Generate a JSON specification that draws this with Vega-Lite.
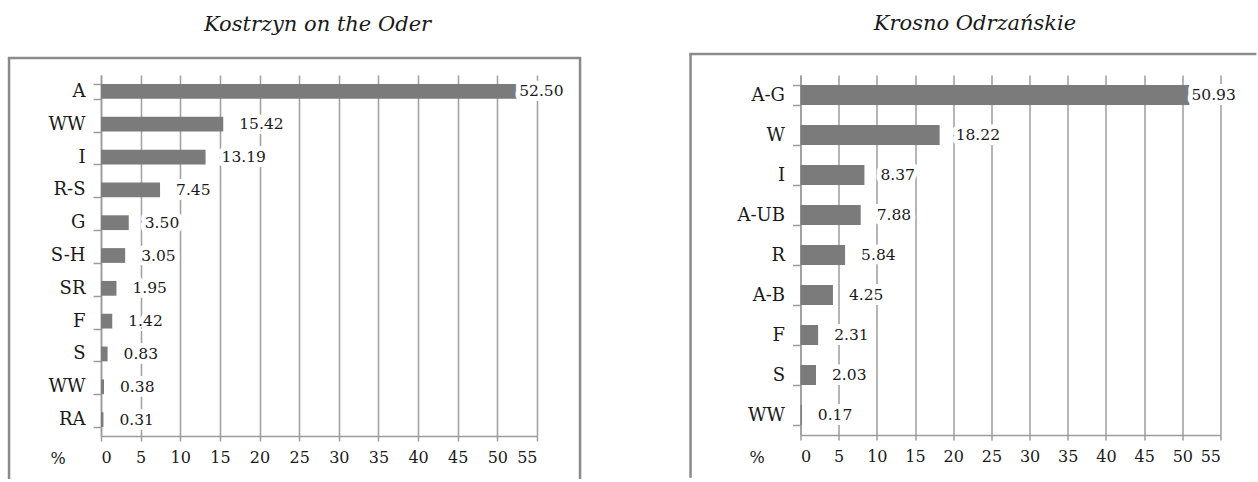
{
  "$schema": "https://vega.github.io/schema/vega-lite/v6.json",
  "background": "white",
  "padding": {"left": 6, "top": 12, "right": 0, "bottom": 0},
  "spacing": 104.5,
  "datasets": {
    "kostrzyn": [
      {"key": "A|1", "share": 52.50},
      {"key": "WW|2", "share": 15.42},
      {"key": "I|3", "share": 13.19},
      {"key": "R-S|4", "share": 7.45},
      {"key": "G|5", "share": 3.50},
      {"key": "S-H|6", "share": 3.05},
      {"key": "SR|7", "share": 1.95},
      {"key": "F|8", "share": 1.42},
      {"key": "S|9", "share": 0.83},
      {"key": "WW|10", "share": 0.38},
      {"key": "RA|11", "share": 0.31}
    ],
    "krosno": [
      {"key": "A-G|1", "share": 50.93},
      {"key": "W|2", "share": 18.22},
      {"key": "I|3", "share": 8.37},
      {"key": "A-UB|4", "share": 7.88},
      {"key": "R|5", "share": 5.84},
      {"key": "A-B|6", "share": 4.25},
      {"key": "F|7", "share": 2.31},
      {"key": "S|8", "share": 2.03},
      {"key": "WW|9", "share": 0.17}
    ]
  },
  "config": {
    "font": "DejaVu Serif",
    "view": {"stroke": null},
    "axis": {
      "labelFont": "DejaVu Serif",
      "titleFont": "DejaVu Serif",
      "labelColor": "#1a1a1a",
      "titleColor": "#1a1a1a",
      "domainColor": "#9c9c9c",
      "tickColor": "#9c9c9c",
      "gridColor": "#a3a3a3",
      "domainWidth": 1.5,
      "tickWidth": 1.5,
      "gridWidth": 1.6,
      "labelOverlap": false
    },
    "title": {
      "font": "DejaVu Serif",
      "fontStyle": "italic",
      "fontWeight": "normal",
      "fontSize": 21,
      "color": "#1a1a1a",
      "frame": "group"
    },
    "text": {"font": "DejaVu Serif", "fontSize": 15.5, "color": "#1a1a1a"}
  },
  "hconcat": [
    {
      "title": {"text": "Kostrzyn on the Oder", "offset": 22, "dx": -1.5},
      "width": 436,
      "height": 361,
      "data": {"name": "kostrzyn"},
      "layer": [
        {
          "mark": {"type": "bar", "color": "#7b7b7b"},
          "encoding": {
            "y": {
              "field": "key", "type": "nominal", "sort": null,
              "scale": {"paddingInner": 0.55, "paddingOuter": 0.275},
              "axis": {
                "title": null,
                "labelExpr": "split(datum.label, '|')[0]",
                "labelFontSize": 18,
                "labelPadding": 8,
                "tickSize": 8,
                "tickBand": "extent",
                "grid": false
              }
            },
            "x": {
              "field": "share", "type": "quantitative",
              "scale": {"domain": [0, 55], "nice": false},
              "axis": {
                "values": [0, 5, 10, 15, 20, 25, 30, 35, 40, 45, 50, 55],
                "tickCount": 12,
                "grid": true,
                "labelFontSize": 16,
                "labelPadding": 8,
                "tickSize": 5,
                "title": "%",
                "titleFontSize": 16,
                "titleFontWeight": "normal",
                "titleX": -43.5,
                "titleY": 22,
                "titleAlign": "center",
                "titleBaseline": "middle"
              }
            }
          }
        },
        {
          "mark": {"type": "text", "align": "left", "baseline": "middle", "dx": 16, "stroke": "white", "strokeWidth": 10, "strokeJoin": "round", "fill": "white"},
          "encoding": {
            "y": {"field": "key", "type": "nominal", "sort": null, "scale": {"paddingInner": 0.55, "paddingOuter": 0.275}, "axis": null},
            "x": {"field": "share", "type": "quantitative", "axis": null},
            "text": {"condition": {"test": "datum.share >= 50", "value": ""}, "field": "share", "type": "quantitative", "format": ".2f"}
          }
        },
        {
          "mark": {"type": "text", "align": "left", "baseline": "middle", "dx": 16},
          "encoding": {
            "y": {"field": "key", "type": "nominal", "sort": null, "scale": {"paddingInner": 0.55, "paddingOuter": 0.275}, "axis": null},
            "x": {"field": "share", "type": "quantitative", "axis": null},
            "text": {"condition": {"test": "datum.share >= 50", "value": ""}, "field": "share", "type": "quantitative", "format": ".2f"}
          }
        },
        {
          "mark": {"type": "text", "align": "left", "baseline": "middle", "dx": 2, "stroke": "white", "strokeWidth": 10, "strokeJoin": "round", "fill": "white"},
          "encoding": {
            "y": {"field": "key", "type": "nominal", "sort": null, "scale": {"paddingInner": 0.55, "paddingOuter": 0.275}, "axis": null},
            "x": {"field": "share", "type": "quantitative", "axis": null},
            "text": {"condition": {"test": "datum.share < 50", "value": ""}, "field": "share", "type": "quantitative", "format": ".2f"}
          }
        },
        {
          "mark": {"type": "text", "align": "left", "baseline": "middle", "dx": 2},
          "encoding": {
            "y": {"field": "key", "type": "nominal", "sort": null, "scale": {"paddingInner": 0.55, "paddingOuter": 0.275}, "axis": null},
            "x": {"field": "share", "type": "quantitative", "axis": null},
            "text": {"condition": {"test": "datum.share < 50", "value": ""}, "field": "share", "type": "quantitative", "format": ".2f"}
          }
        },
        {
          "data": {"values": [{}]},
          "mark": {"type": "rule", "color": "#8a8a8a", "strokeWidth": 2.5},
          "encoding": {
            "x": {"datum": -11.6, "type": "quantitative", "axis": null},
            "y": {"datum": 1.047, "type": "quantitative", "scale": {"domain": [0, 1], "nice": false, "zero": false}, "axis": null},
            "y2": {"datum": -0.119}
          }
        },
        {
          "data": {"values": [{}]},
          "mark": {"type": "rule", "color": "#8a8a8a", "strokeWidth": 2.5},
          "encoding": {
            "x": {"datum": -11.75, "type": "quantitative", "axis": null},
            "x2": {"datum": 60.58},
            "y": {"datum": 1.047, "type": "quantitative", "scale": {"domain": [0, 1], "nice": false, "zero": false}, "axis": null}
          }
        },
        {
          "data": {"values": [{}]},
          "mark": {"type": "rule", "color": "#8a8a8a", "strokeWidth": 2.5},
          "encoding": {
            "x": {"datum": 60.43, "type": "quantitative", "axis": null},
            "y": {"datum": 1.047, "type": "quantitative", "scale": {"domain": [0, 1], "nice": false, "zero": false}, "axis": null},
            "y2": {"datum": -0.119}
          }
        }
      ],
      "resolve": {"scale": {"y": "independent"}, "axis": {"y": "independent", "x": "independent"}}
    },
    {
      "title": {"text": "Krosno Odrzańskie", "offset": 19, "dx": -35.5},
      "width": 420,
      "height": 360,
      "data": {"name": "krosno"},
      "layer": [
        {
          "mark": {"type": "bar", "color": "#7b7b7b"},
          "encoding": {
            "y": {
              "field": "key", "type": "nominal", "sort": null,
              "scale": {"paddingInner": 0.5, "paddingOuter": 0.25},
              "axis": {
                "title": null,
                "labelExpr": "split(datum.label, '|')[0]",
                "labelFontSize": 18,
                "labelPadding": 8,
                "tickSize": 8,
                "tickBand": "extent",
                "grid": false
              }
            },
            "x": {
              "field": "share", "type": "quantitative",
              "scale": {"domain": [0, 55], "nice": false},
              "axis": {
                "values": [0, 5, 10, 15, 20, 25, 30, 35, 40, 45, 50, 55],
                "tickCount": 12,
                "grid": true,
                "labelFontSize": 16,
                "labelPadding": 8,
                "tickSize": 5,
                "title": "%",
                "titleFontSize": 16,
                "titleFontWeight": "normal",
                "titleX": -44,
                "titleY": 22,
                "titleAlign": "center",
                "titleBaseline": "middle"
              }
            }
          }
        },
        {
          "mark": {"type": "text", "align": "left", "baseline": "middle", "dx": 16, "stroke": "white", "strokeWidth": 10, "strokeJoin": "round", "fill": "white"},
          "encoding": {
            "y": {"field": "key", "type": "nominal", "sort": null, "scale": {"paddingInner": 0.5, "paddingOuter": 0.25}, "axis": null},
            "x": {"field": "share", "type": "quantitative", "axis": null},
            "text": {"condition": {"test": "datum.share >= 50", "value": ""}, "field": "share", "type": "quantitative", "format": ".2f"}
          }
        },
        {
          "mark": {"type": "text", "align": "left", "baseline": "middle", "dx": 16},
          "encoding": {
            "y": {"field": "key", "type": "nominal", "sort": null, "scale": {"paddingInner": 0.5, "paddingOuter": 0.25}, "axis": null},
            "x": {"field": "share", "type": "quantitative", "axis": null},
            "text": {"condition": {"test": "datum.share >= 50", "value": ""}, "field": "share", "type": "quantitative", "format": ".2f"}
          }
        },
        {
          "mark": {"type": "text", "align": "left", "baseline": "middle", "dx": 2, "stroke": "white", "strokeWidth": 10, "strokeJoin": "round", "fill": "white"},
          "encoding": {
            "y": {"field": "key", "type": "nominal", "sort": null, "scale": {"paddingInner": 0.5, "paddingOuter": 0.25}, "axis": null},
            "x": {"field": "share", "type": "quantitative", "axis": null},
            "text": {"condition": {"test": "datum.share < 50", "value": ""}, "field": "share", "type": "quantitative", "format": ".2f"}
          }
        },
        {
          "mark": {"type": "text", "align": "left", "baseline": "middle", "dx": 2},
          "encoding": {
            "y": {"field": "key", "type": "nominal", "sort": null, "scale": {"paddingInner": 0.5, "paddingOuter": 0.25}, "axis": null},
            "x": {"field": "share", "type": "quantitative", "axis": null},
            "text": {"condition": {"test": "datum.share < 50", "value": ""}, "field": "share", "type": "quantitative", "format": ".2f"}
          }
        },
        {
          "data": {"values": [{}]},
          "mark": {"type": "rule", "color": "#8a8a8a", "strokeWidth": 2.5},
          "encoding": {
            "x": {"datum": -14.4, "type": "quantitative", "axis": null},
            "y": {"datum": 1.058, "type": "quantitative", "scale": {"domain": [0, 1], "nice": false, "zero": false}, "axis": null},
            "y2": {"datum": -0.119}
          }
        },
        {
          "data": {"values": [{}]},
          "mark": {"type": "rule", "color": "#8a8a8a", "strokeWidth": 2.5},
          "encoding": {
            "x": {"datum": -14.56, "type": "quantitative", "axis": null},
            "x2": {"datum": 59.7},
            "y": {"datum": 1.058, "type": "quantitative", "scale": {"domain": [0, 1], "nice": false, "zero": false}, "axis": null}
          }
        }
      ],
      "resolve": {"scale": {"y": "independent"}, "axis": {"y": "independent", "x": "independent"}}
    }
  ]
}
